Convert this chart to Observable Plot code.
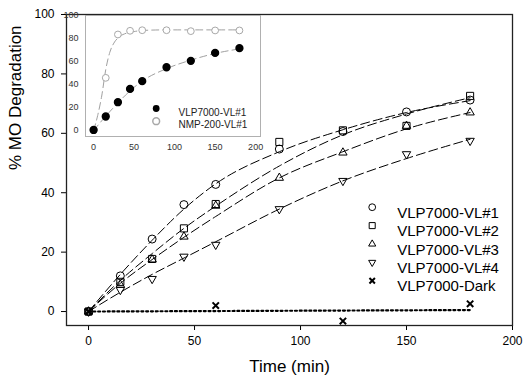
<!DOCTYPE html>
<html><head><meta charset="utf-8">
<script src="https://cdn.jsdelivr.net/npm/d3@7"></script>
<script src="https://cdn.jsdelivr.net/npm/@observablehq/plot@0.6"></script>
<style>
body{margin:0;background:#fff;}
#wrap{position:relative;width:523px;height:384px;}
#inset{position:absolute;left:60px;top:10px;}
</style></head><body><div id="wrap"><div id="main"></div><div id="inset"></div></div>
<script>
// ---- main chart data ----
const times = [0, 15, 30, 45, 60, 90, 120, 150, 180];
const vl1 = [0, 12, 24.4, 36, 42.8, 54.7, 60.6, 67.2, 71.2];
const vl2 = [0, 10, 17.7, 28, 36.2, 57.1, 61, 62.5, 72.6];
const vl3 = [0, 9, 17.5, 25.2, 35.6, 45, 53.5, 62.5, 67];
const vl4 = [0, 7.3, 11, 18.5, 22.5, 34.5, 44, 53, 57.5];
const darkTimes = [0, 60, 120, 180];
const dark = [0, 2, -3.2, 2.6];

const fitTimes = [0, 15, 30, 45, 60, 90, 120, 150, 180];
const fit1 = [0, 12.5, 24, 34.5, 43, 53.8, 61.2, 67, 71];
const fit2 = [0, 10.5, 19.5, 28, 35.5, 49, 59.5, 66.5, 72];
const fit3 = [0, 9.5, 17.5, 25, 32, 45, 53.8, 61.5, 67];
const fit4 = [0, 6.5, 12.5, 18, 23.5, 34.5, 44, 51.5, 58];
const darkFitTimes = [0, 180];
const darkFit = [0, 0.5];

const legendLabels = ["VLP7000-VL#1", "VLP7000-VL#2", "VLP7000-VL#3", "VLP7000-VL#4", "VLP7000-Dark"];
const xTicks = [0, 50, 100, 150, 200];
const yTicks = [0, 20, 40, 60, 80, 100];

// ---- inset data ----
const insetTimes = [0, 15, 30, 45, 60, 90, 120, 150, 180];
const insetVL = [0.5, 12.2, 24.6, 36.2, 42.9, 55, 60.6, 67.5, 71.6];
const insetNMP = [0.5, 45.8, 83.5, 86.7, 87.2, 87.2, 86.4, 87, 87];
const insetFitTimes = [0, 15, 30, 45, 60, 90, 120, 150, 180];
const insetFitVL = [0, 12.5, 24, 34.5, 43, 53.8, 61.2, 67, 71];
const nmpFitTimes = [0, 5, 10, 15, 20, 25, 30, 40, 50, 60, 90, 120, 150, 180];
const nmpFit = [0, 13, 30, 53, 68, 76, 80.5, 84.5, 86, 87, 87.5, 87.5, 87.5, 87.5];
const insetLabels = ["VLP7000-VL#1", "NMP-200-VL#1"];
const insetXTicks = [0, 50, 100, 150, 200];
const insetYTicks = [0, 20, 40, 60, 80, 100];

const rows = (xs, ys) => xs.map((x, i) => ({x, y: ys[i]}));
const font = "'Liberation Sans', Arial, sans-serif";

const series = [
  {pts: vl1, fit: fit1, symbol: "circle", rotate: 0},
  {pts: vl2, fit: fit2, symbol: "square", rotate: 0},
  {pts: vl3, fit: fit3, symbol: "triangle2", rotate: 0},
  {pts: vl4, fit: fit4, symbol: "triangle2", rotate: 180}
];

const marks = [
  Plot.axisX({ticks: xTicks, tickSize: 5, tickPadding: 6, fontSize: 12, label: null}),
  Plot.axisY({ticks: yTicks, tickSize: 5, tickPadding: 7, fontSize: 12, label: null}),
  Plot.frame({stroke: "#222", strokeWidth: 1.3})
];
series.forEach(s => {
  marks.push(Plot.line(rows(fitTimes, s.fit), {x: "x", y: "y", curve: "monotone-x", stroke: "black", strokeWidth: 1, strokeDasharray: "9,4"}));
});
marks.push(Plot.line(rows(darkFitTimes, darkFit), {x: "x", y: "y", stroke: "black", strokeWidth: 2.2, strokeDasharray: "2,2.8"}));
series.forEach(s => {
  marks.push(Plot.dot(rows(times, s.pts), {x: "x", y: "y", symbol: s.symbol, rotate: s.rotate, r: 4, stroke: "black", fill: "none", strokeWidth: 1}));
});
marks.push(Plot.dot(rows(darkTimes, dark), {x: "x", y: "y", symbol: "times", r: 3, stroke: "black", strokeWidth: 2}));
// legend
const legendSym = ["circle", "square", "triangle2", "triangle2", "times"];
const legendRot = [0, 0, 0, 180, 0];
legendLabels.forEach((lab, i) => {
  marks.push(Plot.dot([lab], {frameAnchor: "top-right", dx: -140.3, dy: 192.7 + 18.4 * i, symbol: legendSym[i], rotate: legendRot[i], r: i === 4 ? 2.6 : 3.4, stroke: "black", fill: "none", strokeWidth: i === 4 ? 2 : 1}));
  marks.push(Plot.text([lab], {frameAnchor: "top-right", dx: -115.3, dy: 192.7 + 18.4 * i, text: d => d, textAnchor: "start", fontSize: 15, fill: "black"}));
});
marks.push(Plot.text(["Time (min)"], {frameAnchor: "bottom", dy: 46, text: d => d, fontSize: 17, fill: "black"}));
marks.push(Plot.text(["% MO Degradation"], {frameAnchor: "left", dx: -51, rotate: -90, text: d => d, fontSize: 17, fill: "black"}));

const main = Plot.plot({
  width: 523, height: 384,
  marginLeft: 66, marginRight: 11, marginTop: 14, marginBottom: 59,
  style: {fontFamily: font, background: "white", color: "black"},
  x: {domain: [-10.4, 200]},
  y: {domain: [-4.7, 100]},
  marks
});
document.getElementById("main").append(main);

// ---- inset ----
const insetMarks = [
  Plot.frame({fill: "white", stroke: "#b0b0b0", strokeWidth: 1}),
  Plot.axisX({ticks: insetXTicks, tickSize: 0, tickPadding: 7, fontSize: 9, label: null, fill: "#333"}),
  Plot.axisY({ticks: insetYTicks, tickSize: 0, tickPadding: 7, fontSize: 9, label: null, fill: "#333"}),
  Plot.line(rows(nmpFitTimes, nmpFit), {x: "x", y: "y", curve: "monotone-x", stroke: "#a0a0a0", strokeWidth: 1, strokeDasharray: "7,4"}),
  Plot.line(rows(insetFitTimes, insetFitVL), {x: "x", y: "y", curve: "monotone-x", stroke: "#a0a0a0", strokeWidth: 1, strokeDasharray: "7,4"}),
  Plot.dot(rows(insetTimes, insetNMP), {x: "x", y: "y", r: 3.4, stroke: "#a8a8a8", fill: "white", strokeWidth: 1}),
  Plot.dot(rows(insetTimes, insetVL), {x: "x", y: "y", r: 3.4, fill: "black", stroke: "black"}),
  Plot.dot([insetLabels[0]], {frameAnchor: "top-left", dx: 70.7, dy: 93, r: 3.4, fill: "black"}),
  Plot.dot([insetLabels[1]], {frameAnchor: "top-left", dx: 70.7, dy: 105.7, r: 3.4, stroke: "#a8a8a8", fill: "white"}),
  Plot.text([insetLabels[0]], {frameAnchor: "top-left", dx: 93, dy: 93, text: d => d, textAnchor: "start", fontSize: 10, fill: "#222"}),
  Plot.text([insetLabels[1]], {frameAnchor: "top-left", dx: 93, dy: 105.7, text: d => d, textAnchor: "start", fontSize: 10, fill: "#222"})
];
const inset = Plot.plot({
  width: 205, height: 150,
  marginLeft: 25, marginRight: 5, marginTop: 5, marginBottom: 24,
  style: {fontFamily: font, background: "transparent", color: "#333", overflow: "visible"},
  x: {domain: [-10, 206]},
  y: {domain: [-5.2, 100]},
  marks: insetMarks
});
document.getElementById("inset").append(inset);
</script></body></html>
